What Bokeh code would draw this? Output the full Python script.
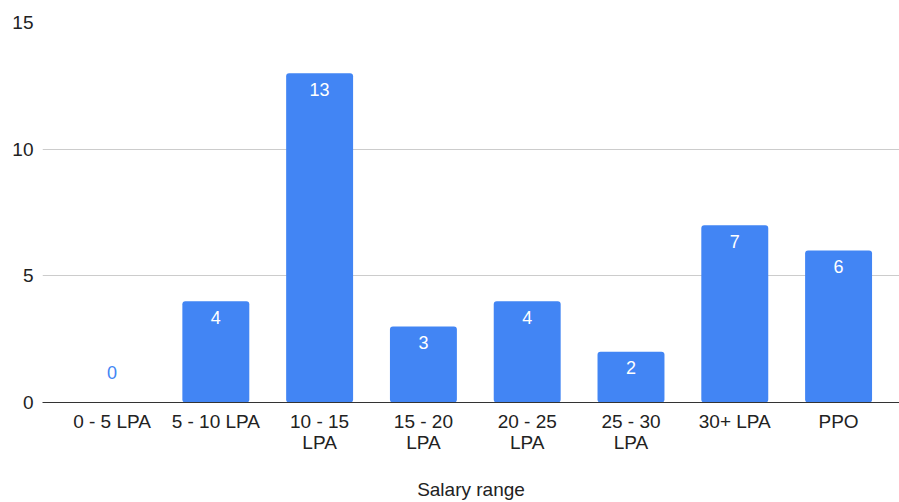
from bokeh.plotting import figure
from bokeh.models import ColumnDataSource, Range1d, FixedTicker
from bokeh.embed import file_html
from bokeh.resources import INLINE
from bokeh.core.properties import value

categories = ["0 - 5 LPA", "5 - 10 LPA", "10 - 15\nLPA", "15 - 20\nLPA",
              "20 - 25\nLPA", "25 - 30\nLPA", "30+ LPA", "PPO"]
counts = [0, 4, 13, 3, 4, 2, 7, 6]
y_ticks = [0, 5, 10, 15]

BLUE = "#4285F4"
FONT = "Arial, Liberation Sans"

xs = [i + 0.5 for i in range(len(categories))]

p = figure(width=899, height=502, output_backend="svg", toolbar_location=None,
           x_range=Range1d(-0.17, 8.087), y_range=Range1d(0, 15),
           min_border_left=42, min_border_top=22, min_border_bottom=100,
           min_border_right=0)
p.outline_line_color = None
p.background_fill_color = "white"
p.border_fill_color = "white"

src = ColumnDataSource(dict(x=xs, top=counts))
p.vbar(x="x", top="top", width=0.645, source=src, fill_color=BLUE,
       line_color=None, border_radius=3)

inside = [i for i, c in enumerate(counts) if c > 0]
zero = [i for i, c in enumerate(counts) if c == 0]
src_in = ColumnDataSource(dict(x=[xs[i] for i in inside],
                               y=[counts[i] for i in inside],
                               lab=[str(counts[i]) for i in inside]))
src_zero = ColumnDataSource(dict(x=[xs[i] for i in zero],
                                 y=[counts[i] for i in zero],
                                 lab=[str(counts[i]) for i in zero]))
p.text(x="x", y="y", text="lab", source=src_in, text_color="white",
       text_font=value(FONT), text_font_size="18px", text_align="center",
       text_baseline="middle", y_offset=16)
p.text(x="x", y="y", text="lab", source=src_zero, text_color=BLUE,
       text_font=value(FONT), text_font_size="18px", text_align="center",
       text_baseline="middle", y_offset=-30)

# axes
p.xaxis.ticker = FixedTicker(ticks=xs)
p.xaxis.major_label_overrides = {x: c for x, c in zip(xs, categories)}
p.xaxis.major_tick_line_color = None
p.xaxis.major_tick_out = 0
p.xaxis.major_tick_in = 0
p.xaxis.minor_tick_line_color = None
p.xaxis.axis_line_color = "#333333"
p.xaxis.axis_line_width = 1
p.xaxis.major_label_text_font = FONT
p.xaxis.major_label_text_font_size = "19px"
p.xaxis.major_label_text_line_height = 1.0
p.xaxis.major_label_text_color = "#222222"
p.xaxis.major_label_standoff = 8
p.xaxis.axis_label = "Salary range"
p.xaxis.axis_label_text_font = FONT
p.xaxis.axis_label_text_font_size = "19px"
p.xaxis.axis_label_text_font_style = "normal"
p.xaxis.axis_label_text_color = "#222222"
p.xaxis.axis_label_standoff = 23

p.yaxis.ticker = FixedTicker(ticks=y_ticks)
p.yaxis.axis_line_color = None
p.yaxis.major_tick_line_color = None
p.yaxis.major_tick_out = 0
p.yaxis.major_tick_in = 0
p.yaxis.minor_tick_line_color = None
p.yaxis.major_label_text_font = FONT
p.yaxis.major_label_text_font_size = "19px"
p.yaxis.major_label_text_color = "#222222"
p.yaxis.major_label_standoff = 9

p.xgrid.grid_line_color = None
p.ygrid.ticker = FixedTicker(ticks=y_ticks)
p.ygrid.grid_line_color = "#cccccc"
p.ygrid.grid_line_width = 1

open("out.html", "w").write(file_html(p, INLINE))
